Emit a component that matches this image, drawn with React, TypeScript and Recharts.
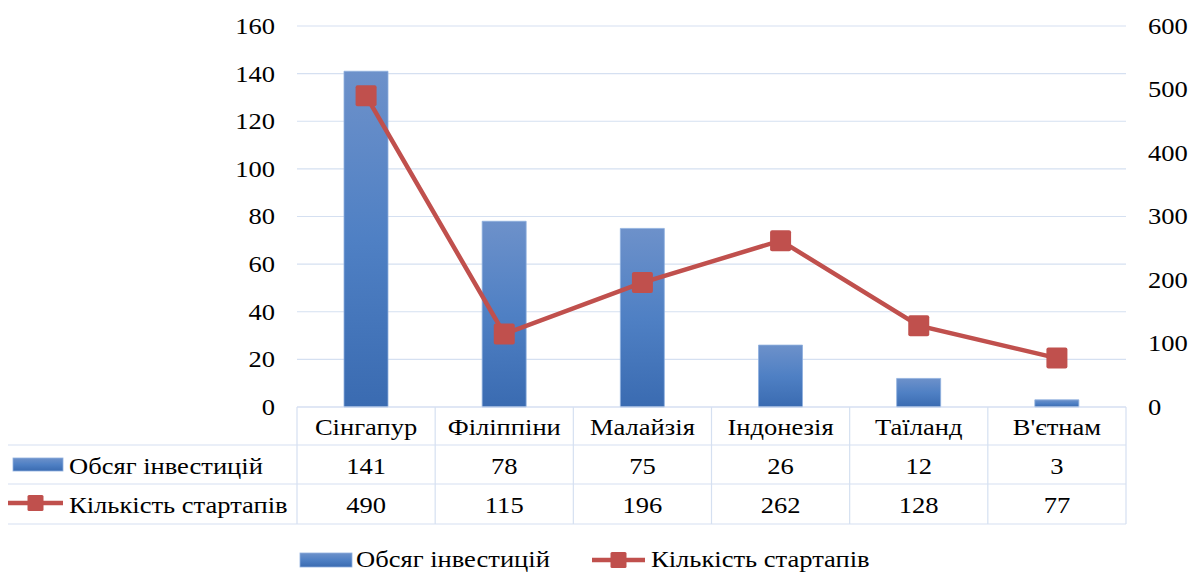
import React from 'react';
import { ComposedChart, Bar, Line, XAxis, YAxis, CartesianGrid, Legend } from 'recharts';

const categories = ['Сінгапур', 'Філіппіни', 'Малайзія', 'Індонезія', 'Таїланд', "В'єтнам"];
const investment = [141, 78, 75, 26, 12, 3];
const startups = [490, 115, 196, 262, 128, 77];
const leftTicks = [0, 20, 40, 60, 80, 100, 120, 140, 160];
const rightTicks = [0, 100, 200, 300, 400, 500, 600];
const seriesNames = ['Обсяг інвестицій', 'Кількість стартапів'];

const data = categories.map((c, i) => ({ name: c, inv: investment[i], st: startups[i] }));

const FONT = '"Liberation Serif", "Times New Roman", serif';
const FS = 22.5;
const SX = 1.18;
const GRID = '#d5e0f1';
const RED = '#c0504d';

const ST = ({ x, y, anchor = 'start', children }: any) => (
  <text
    x={x}
    y={y}
    textAnchor={anchor}
    style={{ fontFamily: FONT, fontSize: FS, fill: '#000' }}
    transform={`translate(${x} ${y}) scale(${SX} 1) translate(${-x} ${-y})`}
  >
    {children}
  </text>
);

const YTick = (props: any) => {
  const { x, y, payload, textAnchor } = props;
  return <ST x={x} y={y + 8} anchor={textAnchor}>{payload.value}</ST>;
};

const BlueKey = ({ x, y, w, h }: any) => (
  <rect x={x} y={y} width={w} height={h} fill="url(#barGrad)" stroke="#8fb0de" strokeWidth={0.8} />
);
const RedKey = ({ x1, x2, y, m }: any) => (
  <g>
    <line x1={x1} x2={x2} y1={y} y2={y} stroke={RED} strokeWidth={4.5} />
    <rect x={(x1 + x2) / 2 - m / 2} y={y - m / 2} width={m} height={m} rx={1.5} fill={RED} />
  </g>
);

const TableTick = (props: any) => {
  const { x, payload, index, width } = props;
  const n = categories.length;
  const colW = width ? width / n : 138.2;
  const top = 407;
  const r1 = 445;
  const r2 = 484;
  const r3 = 524;
  const left = x - colW / 2;
  const right = x + colW / 2;
  const i = payload.index ?? index;
  return (
    <g>
      <line x1={left} x2={left} y1={top} y2={r3} stroke={GRID} strokeWidth={1.2} />
      {i === n - 1 && <line x1={right} x2={right} y1={top} y2={r3} stroke={GRID} strokeWidth={1.2} />}
      {i === 0 && (
        <g>
          <line x1={8} x2={left + colW * n} y1={r1} y2={r1} stroke={GRID} strokeWidth={1.2} />
          <line x1={8} x2={left + colW * n} y1={r2} y2={r2} stroke={GRID} strokeWidth={1.2} />
          <line x1={8} x2={left + colW * n} y1={r3} y2={r3} stroke={GRID} strokeWidth={1.2} />
          <BlueKey x={13} y={458} w={50} h={13} />
          <ST x={69} y={474}>{seriesNames[0]}</ST>
          <RedKey x1={8} x2={63} y={503} m={16} />
          <ST x={69} y={513}>{seriesNames[1]}</ST>
        </g>
      )}
      <ST x={x} y={435} anchor="middle">{payload.value}</ST>
      <ST x={x} y={474} anchor="middle">{investment[i]}</ST>
      <ST x={x} y={513} anchor="middle">{startups[i]}</ST>
    </g>
  );
};

const LegendContent = () => (
  <svg width={1193} height={36} style={{ display: 'block' }}>
    <BlueKey x={300} y={13} w={52} h={14} />
    <ST x={356} y={27}>{seriesNames[0]}</ST>
    <RedKey x1={592} x2={645} y={20} m={16} />
    <ST x={651} y={27}>{seriesNames[1]}</ST>
  </svg>
);

const Square = (props: any) => {
  const { cx, cy, index } = props;
  if (cx == null || cy == null) return null;
  return <rect key={index} x={cx - 10.5} y={cy - 10.5} width={21} height={21} rx={2} fill={RED} />;
};

export default function App() {
  return (
    <div style={{ position: 'absolute', left: 0, top: 0, width: 1193, height: 572, background: '#fff', fontFamily: FONT }}>
      <ComposedChart
        width={1193}
        height={572}
        data={data}
        margin={{ top: 26, right: 7, left: 237, bottom: 0 }}
        barCategoryGap={0}
        style={{ fontFamily: FONT }}
      >
        <defs>
          <linearGradient id="barGrad" x1="0" y1="0" x2="0" y2="1">
            <stop offset="0%" stopColor="#6d91ca" />
            <stop offset="50%" stopColor="#4f80c4" />
            <stop offset="100%" stopColor="#3a6bb1" />
          </linearGradient>
        </defs>
        <CartesianGrid yAxisId="left" vertical={false} stroke={GRID} strokeWidth={1.2} />
        <XAxis
          dataKey="name"
          height={165}
          axisLine={{ stroke: GRID, strokeWidth: 1.2 }}
          tickLine={false}
          tick={<TableTick />}
          interval={0}
        />
        <YAxis
          yAxisId="left"
          orientation="left"
          width={60}
          domain={[0, 160]}
          ticks={leftTicks}
          axisLine={false}
          tickLine={false}
          tickMargin={16}
          tick={<YTick />}
        />
        <YAxis
          yAxisId="right"
          orientation="right"
          width={60}
          domain={[0, 600]}
          ticks={rightTicks}
          axisLine={false}
          tickLine={false}
          tickMargin={16}
          tick={<YTick />}
        />
        <Bar
          yAxisId="left"
          dataKey="inv"
          name={seriesNames[0]}
          barSize={44}
          fill="url(#barGrad)"
          stroke="#8fb0de"
          strokeWidth={0.8}
          isAnimationActive={false}
        />
        <Line
          yAxisId="right"
          dataKey="st"
          name={seriesNames[1]}
          stroke={RED}
          strokeWidth={4.5}
          dot={<Square />}
          activeDot={false}
          isAnimationActive={false}
        />
        <Legend
          layout="horizontal"
          verticalAlign="middle"
          align="center"
          content={<LegendContent />}
          wrapperStyle={{ position: 'absolute', left: 0, top: 540, width: 1193, height: 36 }}
        />
      </ComposedChart>
    </div>
  );
}
